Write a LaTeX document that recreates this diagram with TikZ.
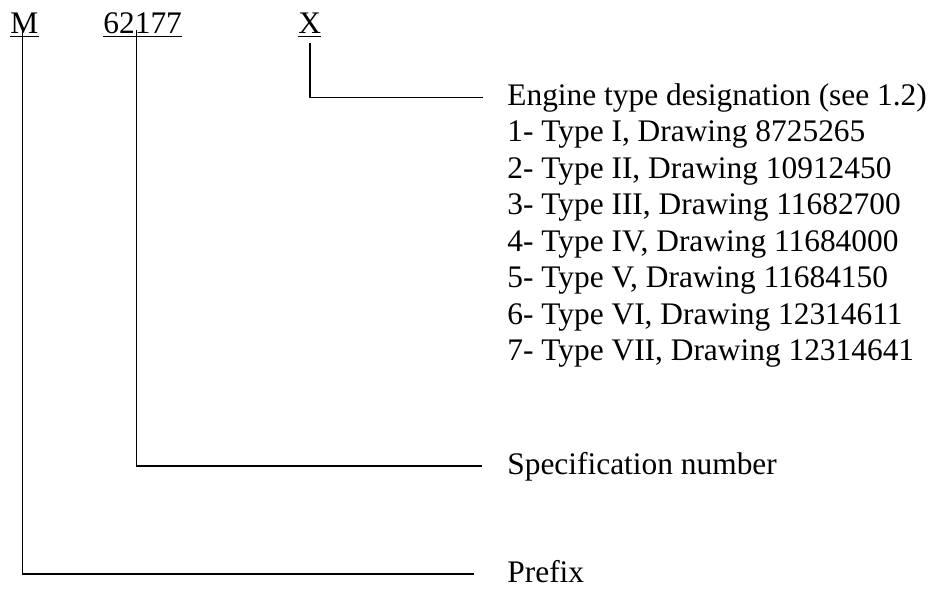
\documentclass[tikz,border=0pt]{standalone}
\usepackage{fontspec}
\setmainfont{Liberation Serif}

\begin{document}
\begin{tikzpicture}[
    x=0.5pt, y=-0.5pt,
    font=\fontsize{15.7}{18}\selectfont,
    txt/.style={anchor=base west, inner sep=0pt},
    lead/.style={draw=black, line width=0.8pt},
    uline/.style={draw=black, line width=0.7pt}
  ]
  \useasboundingbox (0,0) rectangle (934,589);
  \node[txt] (m) at (10,33) {M};
  \node[txt] (num) at (103,33) {62177};
  \node[txt] (x) at (298,33) {X};
  \foreach \c in {m,num,x}
    \draw[uline] ([yshift=-1.6pt]\c.base west) -- ([yshift=-1.6pt]\c.base east);
  \node[txt] (eng) at (507,105) {Engine type designation (see 1.2)};
  \foreach \i/\r/\d in {1/I/8725265, 2/II/10912450, 3/III/11682700, 4/IV/11684000,
                        5/V/11684150, 6/VI/12314611, 7/VII/12314641}
    \node[txt] (t\i) at (507,{105+36.5*\i}) {\i- Type \r, Drawing \d};
  \node[txt] (spec) at (507,474) {Specification number};
  \node[txt] (pfx) at (507,582) {Prefix};
  \draw[lead] ([yshift=-5pt]x.base) |- ([xshift=-12pt]eng.west);
  \draw[lead] ([xshift=-3pt,yshift=1.5pt]num.base) |- ([xshift=-12.5pt]spec.west);
  \draw[lead] ([xshift=-1pt,yshift=2.5pt]m.base) |- ([xshift=-16.5pt,yshift=-1.5pt]pfx.west);
\end{tikzpicture}
\end{document}
